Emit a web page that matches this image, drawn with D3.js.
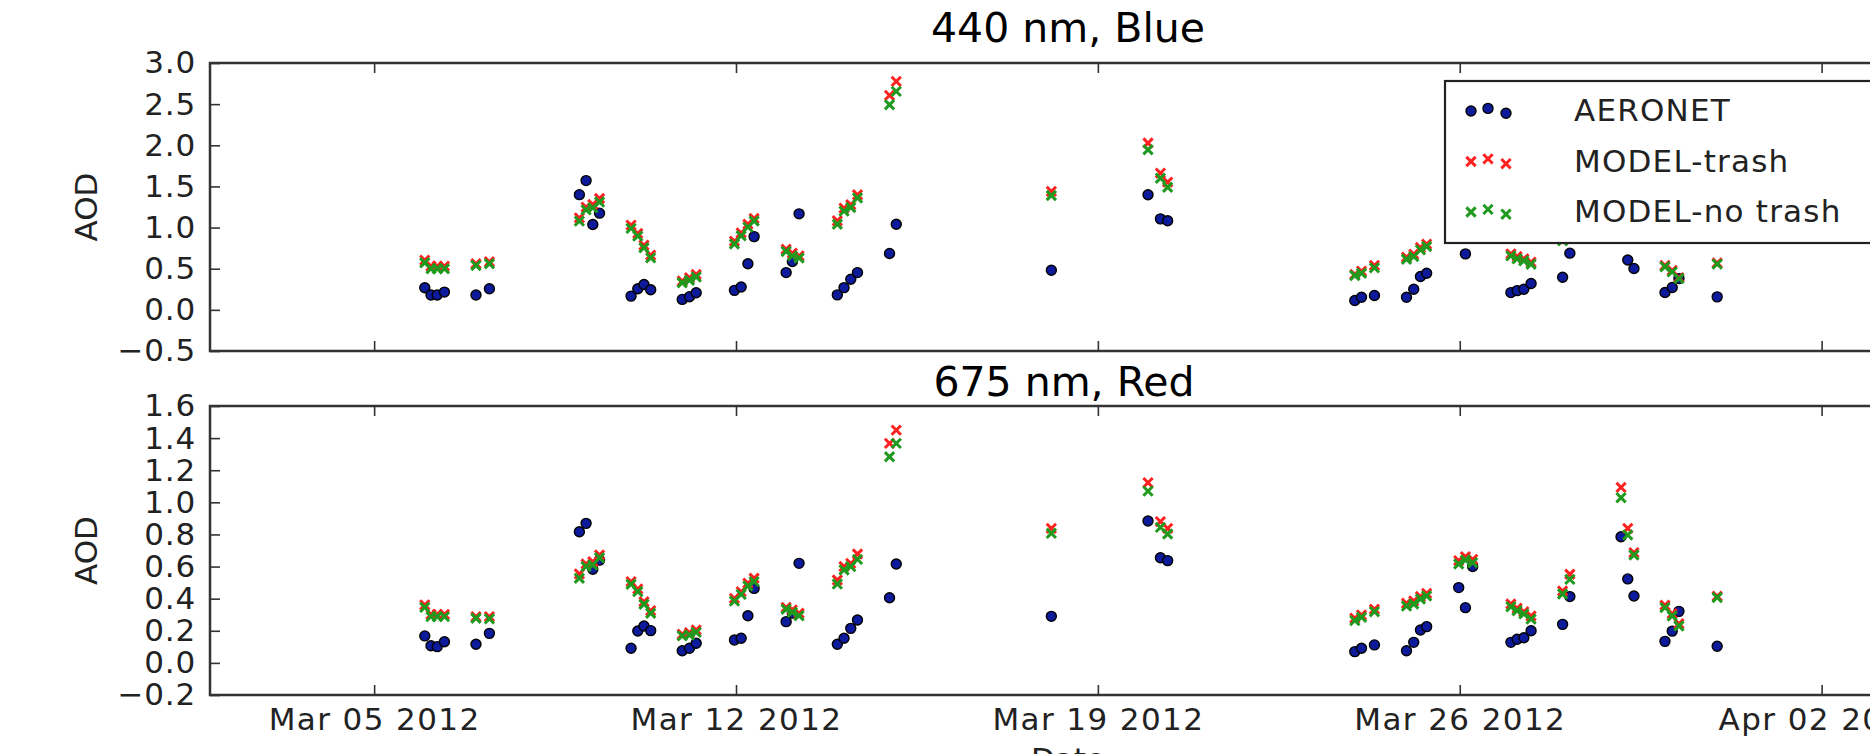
<!DOCTYPE html>
<meta charset="utf-8">
<style>
  body { margin: 0; background: #fff; }
  svg { display: block; }
  .axis text {
    font-family: "DejaVu Sans", sans-serif;
    font-size: 31px;
    fill: #222;
  }
  .axis.x text { letter-spacing: 1.4px; }
  .axis.y text { letter-spacing: 0.8px; }
  .axis line { stroke: #333; stroke-width: 1.6; }
  .title {
    font-family: "DejaVu Sans", sans-serif;
    font-size: 41px;
    fill: #000;
    text-anchor: middle;
  }
  .label {
    font-family: "DejaVu Sans", sans-serif;
    font-size: 31px;
    fill: #222;
    text-anchor: middle;
  }
  .legend text {
    font-family: "DejaVu Sans", sans-serif;
    font-size: 31px;
    letter-spacing: 1.2px;
    fill: #222;
  }
</style>

<svg width="1870" height="754"></svg>
<script src="https://d3js.org/d3.v7.min.js"></script>
<script>
// Measurement times, as day of March 2012 (fractional, UTC)
var marchDay = [5.98, 6.10, 6.22, 6.36, 6.97, 7.23,
  8.97, 9.10, 9.23, 9.36,
  9.97, 10.10, 10.22, 10.35,
  10.96, 11.10, 11.23,
  11.97, 12.10, 12.23, 12.35,
  12.97, 13.09, 13.22,
  13.96, 14.09, 14.22, 14.35,
  14.97, 15.10,
  18.10,
  19.97, 20.21, 20.35,
  23.97, 24.10, 24.35,
  24.97, 25.11, 25.24, 25.36,
  25.98, 26.11, 26.25,
  26.99, 27.11, 27.24, 27.38,
  27.99, 28.13,
  29.12, 29.25, 29.37,
  29.97, 30.11, 30.24,
  30.98];

// 440 nm
var aeronetBlue = [0.268, 0.18, 0.18, 0.216, 0.18, 0.256,
  1.40, 1.571, 1.037, 1.175,
  0.167, 0.256, 0.309, 0.244,
  0.127, 0.159, 0.208,
  0.237, 0.278, 0.56, 0.89,
  0.453, 0.587, 1.167,
  0.182, 0.27, 0.372, 0.453,
  0.685, 1.041,
  0.482,
  1.398, 1.106, 1.082,
  0.113, 0.153, 0.174,
  0.153, 0.25, 0.405, 0.445,
  0.95, 0.68, 1.20,
  0.21, 0.234, 0.25, 0.32,
  0.397, 0.689,
  1.35, 0.605, 0.503,
  0.211, 0.272, 0.38,
  0.158];
var trashBlue = [0.604, 0.53, 0.53, 0.53, 0.56, 0.584,
  1.118, 1.248, 1.28, 1.353,
  1.03, 0.928, 0.786, 0.665,
  0.35, 0.39, 0.43,
  0.835, 0.936, 1.04, 1.11,
  0.737, 0.69, 0.656,
  1.082, 1.236, 1.277, 1.398,
  2.607, 2.777,
  1.44,
  2.027, 1.662, 1.552,
  0.43, 0.47, 0.54,
  0.64, 0.676, 0.757, 0.798,
  1.22, 1.26, 1.24,
  0.68, 0.648, 0.62, 0.58,
  0.87, 1.05,
  1.95, 1.55, 1.25,
  0.54, 0.48, 0.39,
  0.57];
var noTrashBlue = [0.572, 0.50, 0.50, 0.50, 0.54, 0.56,
  1.078, 1.215, 1.24, 1.31,
  0.99, 0.896, 0.754, 0.632,
  0.329, 0.36, 0.40,
  0.80, 0.90, 1.005, 1.08,
  0.71, 0.656, 0.63,
  1.04, 1.20, 1.244, 1.36,
  2.493, 2.655,
  1.39,
  1.946, 1.60, 1.49,
  0.417, 0.445, 0.51,
  0.615, 0.648, 0.729, 0.77,
  1.18, 1.22, 1.20,
  0.656, 0.62, 0.595, 0.555,
  0.84, 1.00,
  1.85, 1.48, 1.20,
  0.523, 0.462, 0.38,
  0.556];

// 675 nm
var aeronetRed = [0.168, 0.107, 0.101, 0.132, 0.116, 0.184,
  0.817, 0.869, 0.583, 0.64,
  0.091, 0.199, 0.23, 0.201,
  0.076, 0.091, 0.122,
  0.143, 0.153, 0.294, 0.464,
  0.257, 0.31, 0.62,
  0.116, 0.153, 0.215, 0.267,
  0.406, 0.616,
  0.29,
  0.884, 0.655, 0.637,
  0.07, 0.091, 0.112,
  0.076, 0.128, 0.205, 0.226,
  0.469, 0.344, 0.6,
  0.128, 0.147, 0.157, 0.2,
  0.24, 0.413,
  0.786, 0.523, 0.417,
  0.134, 0.198, 0.321,
  0.104];
var trashRed = [0.361, 0.302, 0.302, 0.302, 0.288, 0.288,
  0.554, 0.616, 0.63, 0.672,
  0.506, 0.46, 0.381, 0.325,
  0.178, 0.188, 0.205,
  0.402, 0.444, 0.496, 0.527,
  0.346, 0.33, 0.309,
  0.516, 0.6, 0.62, 0.678,
  1.367, 1.45,
  0.838,
  1.123, 0.88, 0.838,
  0.278, 0.298, 0.334,
  0.371, 0.386, 0.413, 0.433,
  0.637, 0.662, 0.645,
  0.367, 0.34, 0.319, 0.292,
  0.448, 0.552,
  1.093, 0.838, 0.687,
  0.359, 0.307, 0.244,
  0.415];
var noTrashRed = [0.346, 0.288, 0.288, 0.288, 0.278, 0.274,
  0.527, 0.60, 0.61, 0.655,
  0.49, 0.444, 0.365, 0.309,
  0.168, 0.174, 0.19,
  0.385, 0.427, 0.479, 0.506,
  0.334, 0.315, 0.294,
  0.491, 0.579, 0.60, 0.645,
  1.284, 1.367,
  0.807,
  1.07, 0.844, 0.803,
  0.263, 0.284, 0.319,
  0.354, 0.367, 0.398, 0.417,
  0.616, 0.641, 0.624,
  0.35, 0.325, 0.305, 0.273,
  0.429, 0.52,
  1.029, 0.797, 0.672,
  0.344, 0.292, 0.23,
  0.407];

var yTicksBlue = [-0.5, 0, 0.5, 1.0, 1.5, 2.0, 2.5, 3.0];
var yTicksRed = [-0.2, 0, 0.2, 0.4, 0.6, 0.8, 1.0, 1.2, 1.4, 1.6];
var xTickDates = ["2012-03-05", "2012-03-12", "2012-03-19", "2012-03-26", "2012-04-02"];
var seriesNames = ["AERONET", "MODEL-trash", "MODEL-no trash"];

var svg = d3.select("svg");
var left = 210, right = 1925;

function toDate(d) { return new Date(Date.UTC(2012, 2, 1) + (d - 1) * 864e5); }

var x = d3.scaleUtc()
    .domain([new Date(Date.UTC(2012, 2, 1, 19, 48)), new Date(Date.UTC(2012, 3, 4))])
    .range([left, right]);
var xTicks = xTickDates.map(function(s) { return new Date(s + "T00:00Z"); });

var blank = function() { return ""; };
var dotFill = "#0d1a9c", trashColor = "#ff2020", noTrashColor = "#1f9a1f";
var cross = d3.symbol(d3.symbolX).size(58);

var panels = [
  {title: "440 nm, Blue", titleX: 1068, titleY: 42, top: 63, bottom: 351, domain: [-0.5, 3.0],
   ticks: yTicksBlue, aeronet: aeronetBlue, trash: trashBlue, noTrash: noTrashBlue, xLabels: false},
  {title: "675 nm, Red", titleX: 1064, titleY: 396, top: 406, bottom: 695, domain: [-0.2, 1.6],
   ticks: yTicksRed, aeronet: aeronetRed, trash: trashRed, noTrash: noTrashRed, xLabels: true}
];

panels.forEach(function(p) {
  var y = d3.scaleLinear().domain(p.domain).range([p.bottom, p.top]);
  var g = svg.append("g");

  g.append("g").attr("class", "axis y")
      .attr("transform", "translate(" + left + ",0)")
      .call(d3.axisLeft(y).tickValues(p.ticks).tickFormat(d3.format(".1f"))
        .tickSizeInner(-10).tickSizeOuter(0).tickPadding(14));
  g.append("g").attr("class", "axis")
      .attr("transform", "translate(" + right + ",0)")
      .call(d3.axisRight(y).tickValues(p.ticks).tickFormat(blank)
        .tickSizeInner(-10).tickSizeOuter(0));
  g.append("g").attr("class", "axis")
      .attr("transform", "translate(0," + p.top + ")")
      .call(d3.axisTop(x).tickValues(xTicks).tickFormat(blank)
        .tickSizeInner(-10).tickSizeOuter(0));
  g.append("g").attr("class", "axis x")
      .attr("transform", "translate(0," + p.bottom + ")")
      .call(d3.axisBottom(x).tickValues(xTicks)
        .tickFormat(p.xLabels ? d3.utcFormat("%b %d %Y") : blank)
        .tickSizeInner(-10).tickSizeOuter(0).tickPadding(13));
  g.selectAll(".domain").remove();

  g.append("rect")
      .attr("x", left).attr("y", p.top)
      .attr("width", right - left).attr("height", p.bottom - p.top)
      .attr("fill", "none").attr("stroke", "#333").attr("stroke-width", 2.5);

  var pts = marchDay.map(function(d, i) {
    return {t: toDate(d), a: p.aeronet[i], r: p.trash[i], n: p.noTrash[i]};
  });

  g.append("g").selectAll("circle").data(pts).join("circle")
      .attr("cx", function(d) { return x(d.t); })
      .attr("cy", function(d) { return y(d.a); })
      .attr("r", 5)
      .attr("fill", dotFill).attr("stroke", "#000").attr("stroke-width", 1.4);
  g.append("g").selectAll("path").data(pts).join("path")
      .attr("d", cross)
      .attr("transform", function(d) { return "translate(" + x(d.t) + "," + y(d.r) + ")"; })
      .attr("stroke", trashColor).attr("stroke-width", 3);
  g.append("g").selectAll("path").data(pts).join("path")
      .attr("d", cross)
      .attr("transform", function(d) { return "translate(" + x(d.t) + "," + y(d.n) + ")"; })
      .attr("stroke", noTrashColor).attr("stroke-width", 3);

  svg.append("text").attr("class", "title")
      .attr("x", p.titleX).attr("y", p.titleY).text(p.title);

  svg.append("text").attr("class", "label")
      .attr("transform", "translate(97," + (p.top + p.bottom) / 2 + ") rotate(-90)")
      .text("AOD");
});

svg.append("text").attr("class", "label")
    .attr("x", 1068).attr("y", 770).text("Date");

// Legend (upper panel)
var legend = svg.append("g").attr("class", "legend");
legend.append("rect")
    .attr("x", 1445).attr("y", 81).attr("width", 520).attr("height", 162)
    .attr("fill", "#fff").attr("stroke", "#222").attr("stroke-width", 2.2);
var markerX = [1471, 1488, 1506], markerDy = [0, -2.6, 2.2];
seriesNames.forEach(function(name, i) {
  var rowY = 111 + i * 50.5;
  var row = legend.append("g");
  markerX.forEach(function(mx, j) {
    if (i === 0) {
      row.append("circle").attr("cx", mx).attr("cy", rowY + markerDy[j]).attr("r", 5)
          .attr("fill", dotFill).attr("stroke", "#000").attr("stroke-width", 1.4);
    } else {
      row.append("path").attr("d", cross)
          .attr("transform", "translate(" + mx + "," + (rowY + markerDy[j]) + ")")
          .attr("stroke", i === 1 ? trashColor : noTrashColor).attr("stroke-width", 3);
    }
  });
  row.append("text").attr("x", 1574).attr("y", rowY + 10).text(name);
});
</script>
